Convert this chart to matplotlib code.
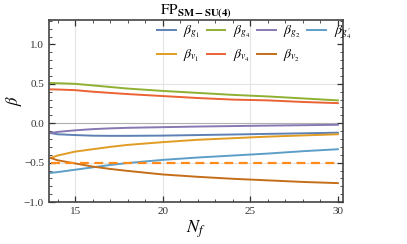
import matplotlib.pyplot as plt
import numpy as np

plt.rcParams['font.family'] = ['Liberation Serif', 'DejaVu Serif']
plt.rcParams['mathtext.fontset'] = 'stix'

# values
nf = [13.6, 14, 15, 16, 17, 18, 20, 22, 24, 26, 28, 30]
b_g1 = [-0.125, -0.14, -0.15, -0.158, -0.16, -0.16, -0.157, -0.15, -0.143, -0.135, -0.128, -0.12]
b_g4 = [0.51, 0.508, 0.50, 0.48, 0.46, 0.44, 0.41, 0.385, 0.36, 0.34, 0.315, 0.29]
b_g2 = [-0.125, -0.11, -0.09, -0.075, -0.065, -0.058, -0.05, -0.042, -0.036, -0.03, -0.025, -0.02]
b_g4p = [-0.63, -0.62, -0.59, -0.56, -0.53, -0.505, -0.465, -0.435, -0.41, -0.385, -0.355, -0.33]
b_v1 = [-0.44, -0.41, -0.36, -0.33, -0.30, -0.275, -0.24, -0.21, -0.19, -0.17, -0.155, -0.14]
b_v4 = [0.43, 0.428, 0.42, 0.40, 0.385, 0.37, 0.345, 0.32, 0.30, 0.29, 0.27, 0.255]
b_v2 = [-0.44, -0.47, -0.51, -0.55, -0.58, -0.605, -0.65, -0.68, -0.705, -0.725, -0.745, -0.76]
ref_level = -0.5

fig = plt.figure(figsize=(4.07, 2.44), dpi=100)
ax = fig.add_axes([0.120, 0.172, 0.723, 0.746])

for x in [15, 20, 25]:
    ax.axvline(x, color='#e4e4e4', lw=0.8, zorder=0)
for y in [0.5, -0.5]:
    ax.axhline(y, color='#e4e4e4', lw=0.8, zorder=0)
ax.axhline(0, color='#b0b0b0', lw=0.8, zorder=0)

lw = 1.4
l_g1, = ax.plot(nf, b_g1, color='#5E81B5', lw=lw)
l_g4, = ax.plot(nf, b_g4, color='#8FB032', lw=lw)
l_g2, = ax.plot(nf, b_g2, color='#8778B3', lw=lw)
l_g4p, = ax.plot(nf, b_g4p, color='#5D9EC7', lw=lw)
l_v1, = ax.plot(nf, b_v1, color='#E19C24', lw=lw)
l_v4, = ax.plot(nf, b_v4, color='#EB6235', lw=lw)
l_v2, = ax.plot(nf, b_v2, color='#C56E1A', lw=lw)
ax.plot([nf[0], nf[-1]], [ref_level, ref_level], color='#FF8C1A', lw=1.6, ls=(0, (4, 2.5)))

ax.set_xlim(13.5, 30.3)
ax.set_ylim(-1.0, 1.31)
ax.set_xticks([15, 20, 25, 30])
ax.set_yticks([-1.0, -0.5, 0.0, 0.5, 1.0])
ax.set_yticklabels(['\u22121.0', '\u22120.5', '0.0', '0.5', '1.0'])
ax.set_xticks(np.arange(14, 31, 1), minor=True)
ax.set_yticks(np.arange(-1.0, 1.31, 0.1), minor=True)
ax.tick_params(which='both', direction='in', top=True, right=True, labelsize=8, colors='#333333')
ax.tick_params(which='major', length=4, width=0.9)
ax.tick_params(which='minor', length=2, width=0.6)
for s in ax.spines.values():
    s.set_color('#444444')
    s.set_linewidth(1.2)

ax.set_xlabel('$N_f$', fontsize=13, labelpad=2)
ax.set_ylabel(r'$\beta$', fontsize=12)
ax.yaxis.set_label_coords(-0.085, 0.56)
ax.set_title(r'$\mathrm{FP}_{\mathbf{SM-SU(4)}}$', fontsize=11, pad=3)

handles = [l_g1, l_v1, l_g4, l_v4, l_g2, l_v2, l_g4p]
labels = [r'$\beta_{g_1}$', r'$\beta_{v_1}$', r'$\beta_{g_4}$', r'$\beta_{v_4}$',
          r'$\beta_{g_2}$', r'$\beta_{v_2}$', r"$\beta_{g_4^\prime}$"]
fig.legend(handles, labels, ncol=4, frameon=False, fontsize=10,
           loc='upper left', bbox_to_anchor=(0.355, 0.955),
           handlelength=1.35, handletextpad=0.55, columnspacing=0.45, labelspacing=0.55)

fig.savefig('out.png', dpi=100)
